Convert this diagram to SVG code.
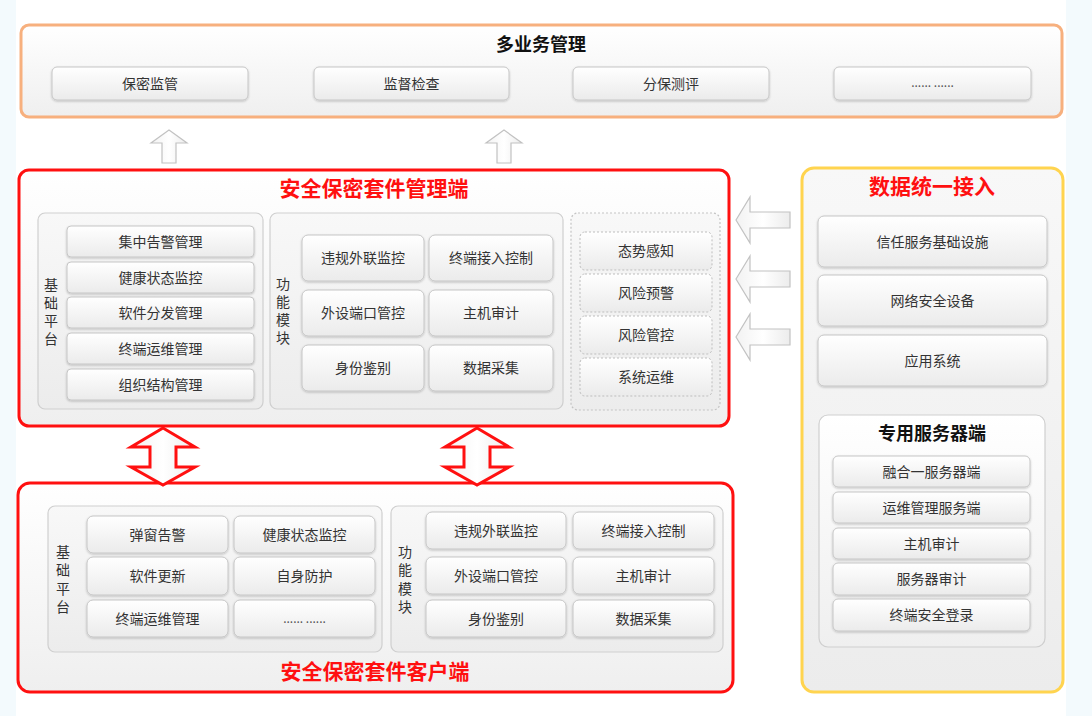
<svg xmlns="http://www.w3.org/2000/svg" width="1092" height="716" viewBox="0 0 1092 716">
<defs>
<linearGradient id="gItem" x1="0" y1="0" x2="0" y2="1"><stop offset="0" stop-color="#ffffff"/><stop offset="1" stop-color="#ebebeb"/></linearGradient>
<linearGradient id="gPanel" x1="0" y1="0" x2="0" y2="1"><stop offset="0" stop-color="#f8f8f8"/><stop offset="1" stop-color="#ececec"/></linearGradient>
<linearGradient id="gBox" x1="0" y1="0" x2="0" y2="1"><stop offset="0" stop-color="#ffffff"/><stop offset="1" stop-color="#efefef"/></linearGradient>
<linearGradient id="gArrow" x1="0" y1="0" x2="1" y2="0"><stop offset="0" stop-color="#f2f2f2"/><stop offset="0.5" stop-color="#ffffff"/><stop offset="1" stop-color="#ececec"/></linearGradient>
<filter id="sh" x="-5%" y="-10%" width="110%" height="130%"><feDropShadow dx="0" dy="1" stdDeviation="0.8" flood-color="#000" flood-opacity="0.22"/></filter>
</defs>
<style>
text{font-family:"Noto Sans CJK SC","Noto Sans",sans-serif;}
.item{fill:url(#gItem);stroke:#c6c6c6;stroke-width:1;filter:url(#sh);}
.ditem{fill:url(#gItem);stroke:#bdbdbd;stroke-width:1;stroke-dasharray:2 2;}
.panel{fill:url(#gPanel);stroke:#cfcfcf;stroke-width:1.2;}
.dpanel{fill:url(#gPanel);stroke:#c4c4c4;stroke-width:1.2;stroke-dasharray:2 2;}
.t{font-size:14px;fill:#333;text-anchor:middle;}
.dots{font-size:12px;fill:#555;text-anchor:middle;}
.vl{font-size:14px;fill:#333;text-anchor:middle;}
.rt{font-size:21px;font-weight:bold;fill:#ff1010;text-anchor:middle;}
.bt{font-size:18px;font-weight:bold;fill:#111;text-anchor:middle;}
.harrow{fill:url(#gArrow);stroke:#c2c2c2;stroke-width:1.2;}
.rarrow{fill:url(#gArrow);stroke:#ff1010;stroke-width:3;stroke-linejoin:miter;}
</style>
<rect x="0" y="0" width="1092" height="716" fill="#ffffff"/>
<rect x="0" y="0" width="16" height="716" fill="#f3fafd"/>
<rect x="1066" y="0" width="26" height="716" fill="#f3fafd"/>

<g id="multi-business">
<rect x="21" y="25" width="1041" height="92" rx="8" fill="url(#gBox)" stroke="#f7b07e" stroke-width="3"/>
<text class="bt" x="541" y="50.5">多业务管理</text>
<rect class="item" x="52" y="67" width="196" height="33" rx="5"/><text class="t" x="150" y="88.5">保密监管</text>
<rect class="item" x="314" y="67" width="195" height="33" rx="5"/><text class="t" x="411.5" y="88.5">监督检查</text>
<rect class="item" x="573" y="67" width="196" height="33" rx="5"/><text class="t" x="671" y="88.5">分保测评</text>
<rect class="item" x="834" y="67" width="197" height="33" rx="5"/><text class="dots" x="932.5" y="87">...... ......</text>
</g>

<g id="mgmt">
<rect x="19" y="170" width="710" height="256" rx="10" fill="url(#gBox)" stroke="#ff1010" stroke-width="3"/>
<text class="rt" x="374" y="196">安全保密套件管理端</text>
<g id="mgmt-base">
<rect class="panel" x="38" y="213" width="225" height="196" rx="7"/>
<text class="vl" x="51" y="290">基</text><text class="vl" x="51" y="308">础</text><text class="vl" x="51" y="326">平</text><text class="vl" x="51" y="344">台</text>
<rect class="item" x="67" y="226" width="187" height="31" rx="4"/><text class="t" x="160.5" y="246.5">集中告警管理</text>
<rect class="item" x="67" y="262" width="187" height="31" rx="4"/><text class="t" x="160.5" y="282.5">健康状态监控</text>
<rect class="item" x="67" y="297" width="187" height="31" rx="4"/><text class="t" x="160.5" y="317.5">软件分发管理</text>
<rect class="item" x="67" y="333" width="187" height="31" rx="4"/><text class="t" x="160.5" y="353.5">终端运维管理</text>
<rect class="item" x="67" y="369" width="187" height="31" rx="4"/><text class="t" x="160.5" y="389.5">组织结构管理</text>
</g>
<g id="mgmt-func">
<rect class="panel" x="270" y="213" width="293" height="196" rx="7"/>
<text class="vl" x="283" y="289">功</text><text class="vl" x="283" y="307">能</text><text class="vl" x="283" y="325">模</text><text class="vl" x="283" y="343">块</text>
<rect class="item" x="302" y="235" width="122" height="46" rx="6"/><text class="t" x="363" y="263">违规外联监控</text>
<rect class="item" x="429" y="235" width="124" height="46" rx="6"/><text class="t" x="491" y="263">终端接入控制</text>
<rect class="item" x="302" y="290" width="122" height="46" rx="6"/><text class="t" x="363" y="318">外设端口管控</text>
<rect class="item" x="429" y="290" width="124" height="46" rx="6"/><text class="t" x="491" y="318">主机审计</text>
<rect class="item" x="302" y="345" width="122" height="46" rx="6"/><text class="t" x="363" y="373">身份鉴别</text>
<rect class="item" x="429" y="345" width="124" height="46" rx="6"/><text class="t" x="491" y="373">数据采集</text>
</g>
<g id="mgmt-risk">
<rect class="dpanel" x="571" y="213" width="149" height="197" rx="7"/>
<rect class="ditem" x="580" y="232" width="132" height="38" rx="5"/><text class="t" x="646" y="256">态势感知</text>
<rect class="ditem" x="580" y="274" width="132" height="38" rx="5"/><text class="t" x="646" y="298">风险预警</text>
<rect class="ditem" x="580" y="316" width="132" height="38" rx="5"/><text class="t" x="646" y="340">风险管控</text>
<rect class="ditem" x="580" y="358" width="132" height="38" rx="5"/><text class="t" x="646" y="382">系统运维</text>
</g>
</g>

<g id="data-access">
<rect x="802" y="168" width="261" height="524" rx="12" fill="url(#gPanel)" stroke="#ffd44f" stroke-width="3"/>
<text class="rt" x="932" y="194">数据统一接入</text>
<rect class="item" x="818" y="216" width="229" height="51" rx="6"/><text class="t" x="932.5" y="246.5">信任服务基础设施</text>
<rect class="item" x="818" y="275" width="229" height="51" rx="6"/><text class="t" x="932.5" y="305.5">网络安全设备</text>
<rect class="item" x="818" y="335" width="229" height="51" rx="6"/><text class="t" x="932.5" y="365.5">应用系统</text>
<g id="dedicated-server">
<rect class="panel" x="819" y="415" width="226" height="232" rx="9" style="fill:url(#gBox)"/>
<text class="bt" x="932" y="439.5">专用服务器端</text>
<rect class="item" x="833" y="456" width="197" height="31" rx="5"/><text class="t" x="931.5" y="476.5">融合一服务器端</text>
<rect class="item" x="833" y="492" width="197" height="31" rx="5"/><text class="t" x="931.5" y="512.5">运维管理服务端</text>
<rect class="item" x="833" y="528" width="197" height="31" rx="5"/><text class="t" x="931.5" y="548.5">主机审计</text>
<rect class="item" x="833" y="563" width="197" height="32" rx="5"/><text class="t" x="931.5" y="584">服务器审计</text>
<rect class="item" x="833" y="599" width="197" height="32" rx="5"/><text class="t" x="931.5" y="620">终端安全登录</text>
</g>
</g>

<g id="client">
<rect x="18" y="483" width="715" height="209" rx="12" fill="url(#gBox)" stroke="#ff1010" stroke-width="3"/>
<text class="rt" x="375" y="679">安全保密套件客户端</text>
<g id="client-base">
<rect class="panel" x="48" y="506" width="334" height="146" rx="7"/>
<text class="vl" x="63" y="557">基</text><text class="vl" x="63" y="575">础</text><text class="vl" x="63" y="594">平</text><text class="vl" x="63" y="612">台</text>
<rect class="item" x="87" y="516" width="141" height="37" rx="6"/><text class="t" x="157.5" y="539.5">弹窗告警</text>
<rect class="item" x="234" y="516" width="141" height="37" rx="6"/><text class="t" x="304.5" y="539.5">健康状态监控</text>
<rect class="item" x="87" y="557" width="141" height="38" rx="6"/><text class="t" x="157.5" y="581">软件更新</text>
<rect class="item" x="234" y="557" width="141" height="38" rx="6"/><text class="t" x="304.5" y="581">自身防护</text>
<rect class="item" x="87" y="600" width="141" height="37" rx="6"/><text class="t" x="157.5" y="623.5">终端运维管理</text>
<rect class="item" x="234" y="600" width="141" height="37" rx="6"/><text class="dots" x="304.5" y="622.5">...... ......</text>
</g>
<g id="client-func">
<rect class="panel" x="391" y="506" width="332" height="146" rx="7"/>
<text class="vl" x="405" y="557">功</text><text class="vl" x="405" y="575">能</text><text class="vl" x="405" y="594">模</text><text class="vl" x="405" y="612">块</text>
<rect class="item" x="426" y="512" width="140" height="37" rx="6"/><text class="t" x="496" y="535.5">违规外联监控</text>
<rect class="item" x="573" y="512" width="141" height="37" rx="6"/><text class="t" x="643.5" y="535.5">终端接入控制</text>
<rect class="item" x="426" y="557" width="140" height="37" rx="6"/><text class="t" x="496" y="580.5">外设端口管控</text>
<rect class="item" x="573" y="557" width="141" height="37" rx="6"/><text class="t" x="643.5" y="580.5">主机审计</text>
<rect class="item" x="426" y="600" width="140" height="37" rx="6"/><text class="t" x="496" y="623.5">身份鉴别</text>
<rect class="item" x="573" y="600" width="141" height="37" rx="6"/><text class="t" x="643.5" y="623.5">数据采集</text>
</g>
</g>

<g id="connectors">
<path class="harrow" d="M169,130 L187,143 L176,143 L176,163 L162,163 L162,143 L151,143 Z"/>
<path class="harrow" d="M504,130 L522,143 L511,143 L511,163 L497,163 L497,143 L486,143 Z"/>
<path class="harrow" d="M736,220 L750,197 L750,212 L790,212 L790,228 L750,228 L750,243 Z"/>
<path class="harrow" d="M736,279 L750,256 L750,271 L790,271 L790,287 L750,287 L750,302 Z"/>
<path class="harrow" d="M736,337 L750,314 L750,329 L790,329 L790,345 L750,345 L750,360 Z"/>
<path class="rarrow" d="M163,428 L195,447 L176,447 L176,467 L195,467 L163,485 L131,467 L150,467 L150,447 L131,447 Z"/>
<path class="rarrow" d="M477,428 L509,447 L490,447 L490,467 L509,467 L477,485 L445,467 L464,467 L464,447 L445,447 Z"/>
</g>
</svg>
